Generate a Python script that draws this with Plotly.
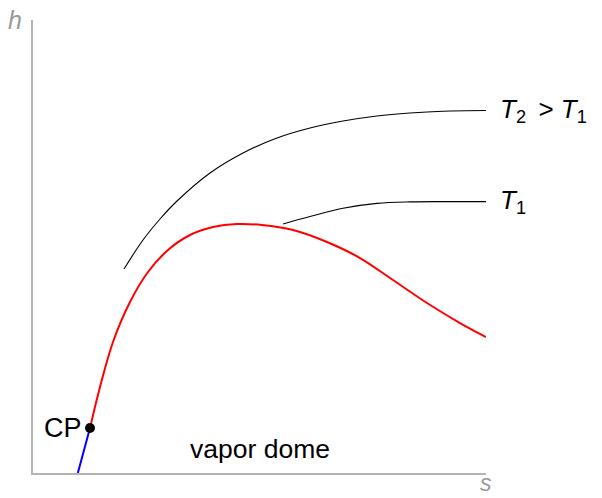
import plotly.graph_objects as go

# Saturation (vapor dome) curve, right of the critical point
dome_s = [12.58, 14.79, 17.66, 21.41, 25.39, 29.80, 34.66, 39.74, 45.03, 50.55, 57.40,
          64.90, 72.19, 79.47, 86.98, 94.26, 100.0]
dome_h = [9.93, 18.98, 28.92, 37.75, 44.37, 49.23, 52.54, 54.30, 54.97, 54.75, 53.64,
          50.99, 47.46, 42.60, 37.53, 33.11, 30.02]

# Liquid side, below the critical point
liq_s = [9.9, 12.58]
liq_h = [0.0, 9.93]

# Isotherms
t1_s = [55.19, 61.15, 68.43, 75.94, 83.22, 90.51, 100.0]
t1_h = [54.97, 56.62, 58.43, 59.51, 59.85, 59.91, 59.91]
t2_s = [20.09, 24.28, 28.04, 31.79, 39.07, 46.36, 53.86, 61.15, 68.43, 75.94, 83.22, 90.51, 100.0]
t2_h = [45.03, 51.43, 56.07, 60.04, 66.23, 70.64, 73.95, 76.16, 77.70, 78.81, 79.47, 79.87, 80.02]

cp_s, cp_h = 12.58, 9.93

FONT = "Liberation Sans"
GRAY = "#999999"

fig = go.Figure()
fig.add_trace(go.Scatter(x=t2_s, y=t2_h, mode="lines",
                         line=dict(color="black", width=1.1, shape="spline", smoothing=1)))
fig.add_trace(go.Scatter(x=t1_s, y=t1_h, mode="lines",
                         line=dict(color="black", width=1.1, shape="spline", smoothing=1)))
fig.add_trace(go.Scatter(x=dome_s, y=dome_h, mode="lines",
                         line=dict(color="red", width=2, shape="spline", smoothing=1)))
fig.add_trace(go.Scatter(x=liq_s, y=liq_h, mode="lines", line=dict(color="blue", width=2)))
fig.add_trace(go.Scatter(x=[cp_s], y=[cp_h], mode="markers", marker=dict(color="black", size=10)))

ann = [
    dict(x=100, y=80.0, text="<i>T</i><sub>2</sub> &#8201;> <i>T</i><sub>1</sub>",
         xanchor="left", yanchor="middle", xshift=12, font=dict(size=26, color="black")),
    dict(x=100, y=59.9, text="<i>T</i><sub>1</sub>", xanchor="left", yanchor="middle", xshift=12,
         font=dict(size=26, color="black")),
    dict(x=cp_s, y=cp_h, text="CP", xanchor="right", yanchor="middle", xshift=-6,
         font=dict(size=27, color="black")),
    dict(x=50.1, y=5.3, text="vapor dome", xanchor="center", yanchor="middle",
         font=dict(size=26.5, color="black")),
    dict(x=0, y=100, text="<i>h</i>", xanchor="right", yanchor="middle", xshift=-9,
         font=dict(size=25, color=GRAY)),
    dict(x=1, xref="paper", y=-25 / 453, yref="paper", text="<i>s</i>", xanchor="center",
         yanchor="bottom", font=dict(size=23, color=GRAY)),
]
for a in ann:
    a["showarrow"] = False

fig.update_layout(
    width=602, height=498,
    margin=dict(l=33, r=116, t=20, b=25),
    plot_bgcolor="white", paper_bgcolor="white",
    showlegend=False,
    font=dict(family=FONT),
    annotations=ann,
    xaxis=dict(range=[0, 100], showgrid=False, zeroline=False, showticklabels=False, ticks="",
               showline=True, linecolor="#b4b4b4", linewidth=1.5),
    yaxis=dict(range=[0, 100], showgrid=False, zeroline=False, showticklabels=False, ticks="",
               showline=True, linecolor="#b4b4b4", linewidth=1.5),
)
fig.write_html("out.html")
